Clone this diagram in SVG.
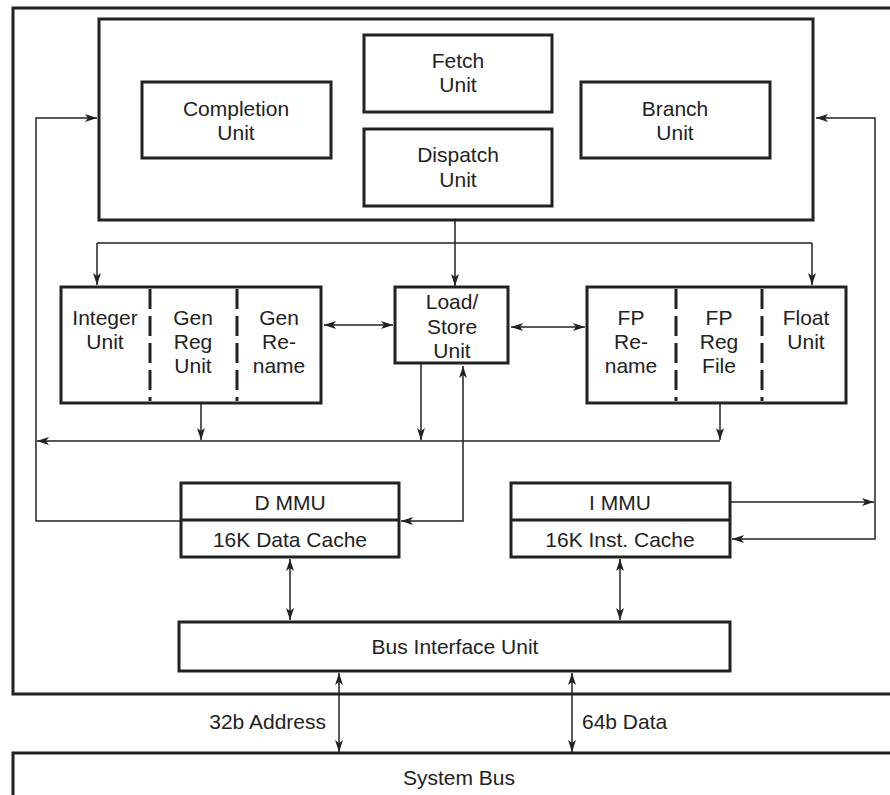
<svg xmlns="http://www.w3.org/2000/svg" width="890" height="795" viewBox="0 0 890 795">
<style>
.box{fill:#fff;stroke:#222;stroke-width:3}
.div{fill:none;stroke:#222;stroke-width:3;stroke-dasharray:20 7}
.ln{fill:none;stroke:#222;stroke-width:1.5}
text{font-family:"Liberation Sans",Arial,sans-serif;font-size:21px;fill:#222;text-anchor:middle}
</style>
<defs>
<marker id="ah" viewBox="0 0 12 8" refX="12" refY="4" markerWidth="12" markerHeight="8" markerUnits="userSpaceOnUse" orient="auto-start-reverse">
<path d="M0,0 L12,4 L0,8 L3,4 Z" fill="#222"/>
</marker>
</defs>
<rect width="890" height="795" fill="#fff"/>
<g id="chip"><rect class="box" x="13" y="8" width="880" height="686" stroke-width="2.5"/></g>
<g id="system-bus"><rect class="box" x="13" y="753" width="880" height="60" stroke-width="2.5"/><text x="459" y="785">System Bus</text></g>
<g id="core"><rect class="box" x="99" y="19" width="714" height="201"/></g>
<g id="fetch"><rect class="box" x="364" y="35" width="188" height="77"/><text x="458" y="68">Fetch</text><text x="458" y="92">Unit</text></g>
<g id="dispatch"><rect class="box" x="364" y="129" width="188" height="77"/><text x="458" y="162">Dispatch</text><text x="458" y="187">Unit</text></g>
<g id="completion"><rect class="box" x="142" y="82" width="189" height="76"/><text x="236" y="116">Completion</text><text x="236" y="140">Unit</text></g>
<g id="branch"><rect class="box" x="581" y="82" width="189" height="76"/><text x="675" y="116">Branch</text><text x="675" y="140">Unit</text></g>
<g id="integer"><rect class="box" x="61" y="287" width="260" height="116"/>
<line class="div" x1="150" y1="289" x2="150" y2="401"/><line class="div" x1="237" y1="289" x2="237" y2="401"/>
<text x="105" y="325">Integer</text><text x="105" y="349">Unit</text>
<text x="193" y="325">Gen</text><text x="193" y="349">Reg</text><text x="193" y="373">Unit</text>
<text x="279" y="325">Gen</text><text x="279" y="349">Re-</text><text x="279" y="373">name</text></g>
<g id="loadstore"><rect class="box" x="395" y="287" width="113" height="76"/><text x="452" y="309">Load/</text><text x="452" y="334">Store</text><text x="452" y="358">Unit</text></g>
<g id="float"><rect class="box" x="587" y="287" width="259" height="116"/>
<line class="div" x1="676" y1="289" x2="676" y2="401"/><line class="div" x1="762" y1="289" x2="762" y2="401"/>
<text x="631" y="325">FP</text><text x="631" y="349">Re-</text><text x="631" y="373">name</text>
<text x="719" y="325">FP</text><text x="719" y="349">Reg</text><text x="719" y="373">File</text>
<text x="806" y="325">Float</text><text x="806" y="349">Unit</text></g>
<g id="dmmu"><rect class="box" x="181" y="483" width="218" height="74"/><line x1="181" y1="520" x2="399" y2="520" stroke="#222" stroke-width="3"/>
<text x="290" y="510">D MMU</text><text x="290" y="547">16K Data Cache</text></g>
<g id="immu"><rect class="box" x="511" y="483" width="219" height="74"/><line x1="511" y1="520" x2="730" y2="520" stroke="#222" stroke-width="3"/>
<text x="620" y="510">I MMU</text><text x="620" y="547">16K Inst. Cache</text></g>
<g id="biu"><rect class="box" x="179" y="622" width="551" height="49"/><text x="455" y="654">Bus Interface Unit</text></g>
<g id="labels"><text x="326" y="729" style="text-anchor:end">32b Address</text><text x="582" y="729" style="text-anchor:start">64b Data</text></g>
<g id="connectors">
<line class="ln" x1="455" y1="220" x2="455" y2="286" marker-end="url(#ah)"/>
<line class="ln" x1="97" y1="243" x2="812" y2="243"/>
<line class="ln" x1="97" y1="243" x2="97" y2="285" marker-end="url(#ah)"/>
<line class="ln" x1="812" y1="243" x2="812" y2="285" marker-end="url(#ah)"/>
<line class="ln" x1="324" y1="325" x2="393" y2="325" marker-start="url(#ah)" marker-end="url(#ah)"/>
<line class="ln" x1="511" y1="327" x2="585" y2="327" marker-start="url(#ah)" marker-end="url(#ah)"/>
<line class="ln" x1="201" y1="403" x2="201" y2="440" marker-end="url(#ah)"/>
<line class="ln" x1="421" y1="363" x2="421" y2="440" marker-end="url(#ah)"/>
<line class="ln" x1="720" y1="403" x2="720" y2="440" marker-end="url(#ah)"/>
<line class="ln" x1="720" y1="441" x2="37" y2="441" marker-end="url(#ah)"/>
<polyline class="ln" points="181,521 36,521 36,118 97,118" marker-end="url(#ah)"/>
<polyline class="ln" points="463,366 463,521 401,521" marker-start="url(#ah)" marker-end="url(#ah)"/>
<line class="ln" x1="730" y1="502" x2="874" y2="502" marker-end="url(#ah)"/>
<polyline class="ln" points="816,118 875,118 875,539 732,539" marker-start="url(#ah)" marker-end="url(#ah)"/>
<line class="ln" x1="290" y1="559" x2="290" y2="620" marker-start="url(#ah)" marker-end="url(#ah)"/>
<line class="ln" x1="620" y1="559" x2="620" y2="620" marker-start="url(#ah)" marker-end="url(#ah)"/>
<line class="ln" x1="339" y1="673" x2="339" y2="752" marker-start="url(#ah)" marker-end="url(#ah)"/>
<line class="ln" x1="572" y1="673" x2="572" y2="752" marker-start="url(#ah)" marker-end="url(#ah)"/>
</g>
</svg>
